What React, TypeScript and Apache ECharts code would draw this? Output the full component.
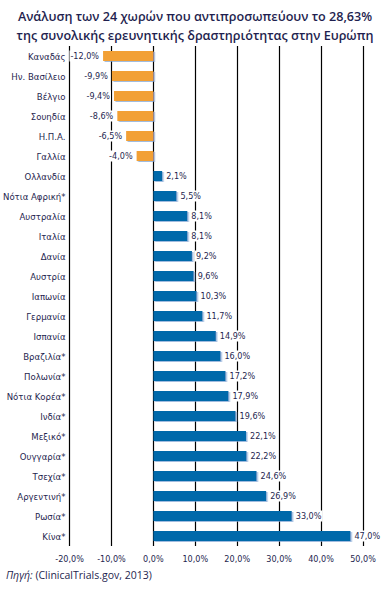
import React, { useEffect, useRef } from "react";
import * as echarts from "echarts";

const categories = [
  "Καναδάς", "Ην. Βασίλειο", "Βέλγιο", "Σουηδία", "Η.Π.Α.", "Γαλλία",
  "Ολλανδία", "Νότια Αφρική*", "Αυστραλία", "Ιταλία", "Δανία", "Αυστρία",
  "Ιαπωνία", "Γερμανία", "Ισπανία", "Βραζιλία*", "Πολωνία*", "Νότια Κορέα*",
  "Ινδία*", "Μεξικό*", "Ουγγαρία*", "Τσεχία*", "Αργεντινή*", "Ρωσία*", "Κίνα*",
];
const values = [
  -12.0, -9.9, -9.4, -8.6, -6.5, -4.0,
  2.1, 5.5, 8.1, 8.1, 9.2, 9.6,
  10.3, 11.7, 14.9, 16.0, 17.2, 17.9,
  19.6, 22.1, 22.2, 24.6, 26.9, 33.0, 47.0,
];
const xMin = -20;
const xMax = 50;
const xStep = 10;
const titleLines = [
  "Ανάλυση των 24 χωρών που αντιπροσωπεύουν το 28,63%",
  "της συνολικής ερευνητικής δραστηριότητας στην Ευρώπη",
];
const sourceLabel = "Πηγή:";
const sourceText = " (ClinicalTrials.gov, 2013)";

const NAVY = "#1f1f4f";
const ORANGE = "#F2A035";
const BLUE = "#0069AA";
const FONT = "'Liberation Sans Narrow', 'DejaVu Sans Condensed', 'Roboto', sans-serif";

const fmt = (v: number) => v.toFixed(1).replace(".", ",") + "%";

export default function App() {
  const ref = useRef<HTMLDivElement>(null);
  useEffect(() => {
    document.body.style.margin = "0";
    const chart = echarts.init(ref.current!, undefined, { renderer: "svg" });
    chart.setOption({
      animation: false,
      backgroundColor: "#ffffff",
      textStyle: { fontFamily: FONT },
      title: {
        text: titleLines.join("\n"),
        left: "center",
        top: 2,
        textStyle: {
          fontFamily: "'Open Sans', sans-serif",
          fontSize: 12.6,
          fontWeight: 600,
          color: NAVY,
          lineHeight: 19,
        },
      },
      graphic: [
        {
          type: "text",
          left: 6,
          top: 569,
          style: {
            text: "{i|" + sourceLabel + "}{n|" + sourceText + "}",
            rich: {
              i: { fontFamily: "'Open Sans', sans-serif", fontStyle: "italic", fontSize: 10.5, fill: NAVY },
              n: { fontFamily: "'Open Sans', sans-serif", fontSize: 10.5, fill: NAVY },
            },
          },
        },
      ],
      grid: { left: 66, right: 27, top: 46, bottom: 44, containLabel: false },
      xAxis: {
        type: "value",
        min: xMin,
        max: xMax,
        interval: xStep,
        axisLine: { show: false },
        axisTick: { show: false },
        splitLine: { show: true, lineStyle: { color: "#000000", width: 1.2 } },
        axisLabel: {
          formatter: (v: number) => fmt(v),
          fontSize: 9,
          color: NAVY,
          margin: 8,
          fontFamily: FONT,
        },
      },
      yAxis: {
        type: "category",
        data: categories,
        inverse: true,
        axisLine: { show: false },
        axisTick: { show: false },
        splitLine: { show: false },
        axisLabel: { fontSize: 9.5, color: NAVY, margin: 4, fontFamily: FONT },
      },
      series: [
        {
          type: "bar",
          data: values.map((v) => ({
            value: v,
            itemStyle: { color: v < 0 ? ORANGE : BLUE },
            label: {
              show: true,
              position: v < 0 ? "left" : "right",
              distance: 3,
              formatter: () => fmt(v),
              fontSize: 9,
              color: NAVY,
              fontFamily: FONT,
              backgroundColor: "#ffffff",
              padding: [1, 1],
            },
          })),
          barWidth: 10,
          itemStyle: {
            shadowColor: "rgba(120,160,210,0.7)",
            shadowOffsetX: 1.5,
            shadowOffsetY: 1,
            shadowBlur: 0,
          },
        },
      ],
    });
    return () => chart.dispose();
  }, []);
  return <div ref={ref} style={{ position: "absolute", left: 0, top: 0, width: 390, height: 590 }} />;
}
